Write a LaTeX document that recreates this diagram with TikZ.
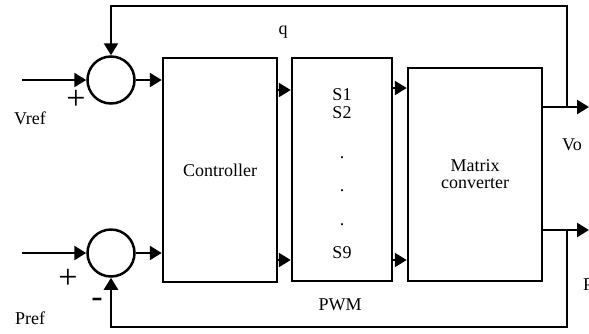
\documentclass[tikz,border=0pt]{standalone}
\usepackage{fontspec}
\setmainfont{Liberation Serif}
\usetikzlibrary{arrows.meta,positioning,calc}

\tikzset{
  blk/.style={draw, line width=2.5pt, rectangle, inner sep=0pt},
  sumnode/.style={draw, line width=2.5pt, circle, minimum size=47pt, inner sep=0pt},
  wire/.style={line width=2.5pt},
  arr/.style={wire, -{Triangle[length=12pt,width=14pt]}},
  lbl/.style={font=\fontsize{18}{20}\selectfont, inner sep=0pt},
  sgn/.style={font=\fontsize{34}{36}\selectfont, inner sep=0pt}
}

\begin{document}
\begin{tikzpicture}[x=1pt,y=-1pt]
  \useasboundingbox (0,0) rectangle (589,333);

  % summing points and blocks
  \node[sumnode] (sum1) at (111,80) {};
  \node[sumnode] (sum2) at (111,253) {};
  \node[blk, minimum width=114pt, minimum height=224pt] (ctrl) at (220,170) {};
  \node[blk, minimum width=100pt, minimum height=223pt] (pwm) at (342,169.5) {};
  \node[blk, minimum width=134pt, minimum height=213pt] (mc) at (475,174.5) {};

  % free ends
  \coordinate (vin) at (22,80);
  \coordinate (pin) at (22,253);
  \coordinate (vo) at (589,107);
  \coordinate (po) at (589,230);
  \coordinate (vtap) at (567,107);
  \coordinate (ptap) at (567,230);

  % forward path
  \draw[arr] (vin) -- (sum1.west);
  \draw[arr] (pin) -- (sum2.west);
  \draw[arr] (sum1.east) -- (ctrl.west |- sum1);
  \draw[arr] (sum2.east) -- (ctrl.west |- sum2);
  \draw[arr] (ctrl.east |- 0,90) -- (pwm.west |- 0,90);
  \draw[arr] (ctrl.east |- 0,260) -- (pwm.west |- 0,260);
  \draw[arr] (pwm.east |- 0,88) -- (mc.west |- 0,88);
  \draw[arr] (pwm.east |- 0,260) -- (mc.west |- 0,260);
  \draw[arr] (mc.east |- vo) -- (vo);
  \draw[arr] (mc.east |- po) -- (po);

  % feedback
  \draw[arr] (vtap) -- (567,6) -| (sum1.north);
  \draw[arr] (ptap) -- (567,327) -| (sum2.south);

  % labels
  \node[lbl] (ctrllbl) at (ctrl) {Controller};
  \node[lbl] (s1) at (342,95) {S1};
  \node[lbl] (s2) at (342,113) {S2};
  \node[lbl] (d1) at (342,158) {.};
  \node[lbl] (d2) at (342,191) {.};
  \node[lbl] (d3) at (342,225) {.};
  \node[lbl] (s9) at (342,253) {S9};
  \node[lbl, align=center] (mclbl) at (475,174) {Matrix\\[-3pt]converter};
  \node[lbl] (q) at (283,32) {q};
  \node[lbl] (vref) at (30,118) {Vref};
  \node[lbl] (pref) at (30,318) {Pref};
  \node[lbl] (pwmlbl) at (340,305) {PWM};
  \node[lbl] (volbl) at (572,145) {Vo};
  \node[lbl, anchor=west] (polbl) at (583,285) {Po};
  \node[sgn] (p1) at (76,100) {+};
  \node[sgn] (p2) at (68,279) {+};
  \node[sgn] (m2) at (97,303) {-};
\end{tikzpicture}
\end{document}
